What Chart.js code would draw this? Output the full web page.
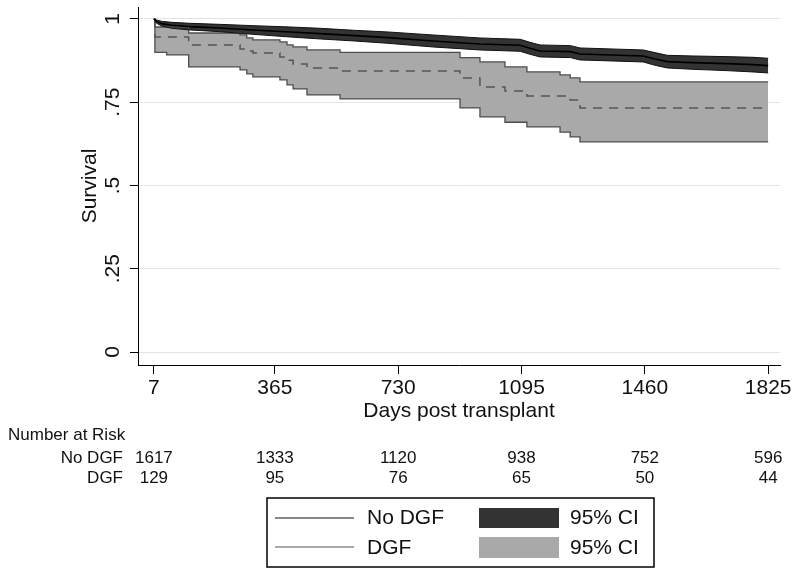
<!DOCTYPE html>
<html>
<head>
<meta charset="utf-8">
<script src="https://cdn.jsdelivr.net/npm/chart.js@4.4.1/dist/chart.umd.min.js"></script>
<style>
  html, body { margin: 0; padding: 0; background: #fff; }
</style>
</head>
<body>
<canvas id="kmChart" width="800" height="576"></canvas>
<script>
// No DGF group: KM estimate and 95% CI
const noDgfDays  = [7, 15, 30, 60, 114, 200, 300, 410, 500, 600, 700, 833, 972, 1091, 1120, 1150, 1240, 1268, 1455, 1490, 1526, 1600, 1700, 1780, 1825];
const noDgfSurv  = [1.0, 0.992, 0.986, 0.981, 0.977, 0.973, 0.967, 0.961, 0.956, 0.950, 0.944, 0.934, 0.925, 0.921, 0.912, 0.904, 0.902, 0.895, 0.889, 0.880, 0.872, 0.869, 0.866, 0.863, 0.860];
const noDgfLower = [1.0, 0.987, 0.979, 0.972, 0.967, 0.962, 0.954, 0.946, 0.940, 0.934, 0.927, 0.916, 0.907, 0.903, 0.894, 0.886, 0.884, 0.877, 0.871, 0.861, 0.853, 0.849, 0.845, 0.841, 0.838];
const noDgfUpper = [1.0, 0.997, 0.993, 0.990, 0.987, 0.984, 0.980, 0.976, 0.972, 0.966, 0.961, 0.952, 0.943, 0.939, 0.930, 0.922, 0.920, 0.913, 0.907, 0.899, 0.891, 0.889, 0.887, 0.885, 0.882];

// DGF group: KM estimate and 95% CI (step function)
const dgfDays  = [7, 10, 45, 110, 262, 282, 300, 380, 401, 419, 460, 558, 913, 972, 1046, 1111, 1209, 1239, 1268, 1825];
const dgfSurv  = [1, 0.946, 0.946, 0.922, 0.910, 0.904, 0.898, 0.886, 0.876, 0.865, 0.853, 0.844, 0.823, 0.796, 0.784, 0.769, 0.769, 0.757, 0.733, 0.733];
const dgfLower = [1, 0.900, 0.892, 0.856, 0.847, 0.835, 0.826, 0.817, 0.802, 0.790, 0.772, 0.760, 0.733, 0.706, 0.690, 0.676, 0.660, 0.646, 0.631, 0.631];
const dgfUpper = [1, 0.976, 0.976, 0.958, 0.952, 0.943, 0.937, 0.931, 0.922, 0.916, 0.907, 0.900, 0.884, 0.871, 0.856, 0.841, 0.832, 0.823, 0.811, 0.811];

const xTicks = [7, 365, 730, 1095, 1460, 1825];
const yTicks = [0, 0.25, 0.5, 0.75, 1];
const yTickLabels = ["0", ".25", ".5", ".75", "1"];

const riskRows = ["No DGF", "DGF"];
const riskNoDgf = [1617, 1333, 1120, 938, 752, 596];
const riskDgf = [129, 95, 76, 65, 50, 44];

const FONT = "'Liberation Sans', Arial, Helvetica, sans-serif";

function pts(xs, ys) {
  return xs.map((x, i) => ({ x: x, y: ys[i] }));
}

// axis labels, number at risk table and legend box
const extras = {
  id: "extras",
  afterDraw(chart) {
    const ctx = chart.ctx;
    const xs = chart.scales.x;
    const ys = chart.scales.y;
    const area = chart.chartArea;
    ctx.save();
    ctx.fillStyle = "#111";
    ctx.textBaseline = "middle";

    // y tick labels, rotated
    ctx.font = "21px " + FONT;
    ctx.textAlign = "center";
    yTicks.forEach((v, i) => {
      ctx.save();
      ctx.translate(113, ys.getPixelForValue(v));
      ctx.rotate(-Math.PI / 2);
      ctx.fillText(yTickLabels[i], 0, 0);
      ctx.restore();
    });

    // y title
    ctx.save();
    ctx.translate(90, (area.top + area.bottom) / 2);
    ctx.rotate(-Math.PI / 2);
    ctx.fillText("Survival", 0, 0);
    ctx.restore();

    // x title
    ctx.fillText("Days post transplant", (area.left + area.right) / 2, 411);

    // number at risk
    ctx.font = "17px " + FONT;
    ctx.textAlign = "left";
    ctx.fillText("Number at Risk", 8, 435);
    ctx.textAlign = "right";
    ctx.fillText(riskRows[0], 123, 458);
    ctx.fillText(riskRows[1], 123, 478);
    ctx.textAlign = "center";
    xTicks.forEach((d, i) => {
      const px = xs.getPixelForValue(d);
      ctx.fillText(String(riskNoDgf[i]), px, 458);
      ctx.fillText(String(riskDgf[i]), px, 478);
    });

    // legend
    ctx.strokeStyle = "#000";
    ctx.lineWidth = 1.5;
    ctx.strokeRect(267, 498, 387, 69);

    ctx.lineWidth = 1.2;
    ctx.strokeStyle = "#111";
    ctx.beginPath(); ctx.moveTo(275, 518); ctx.lineTo(354, 518); ctx.stroke();
    ctx.strokeStyle = "#555";
    ctx.beginPath(); ctx.moveTo(275, 547); ctx.lineTo(354, 547); ctx.stroke();

    ctx.fillStyle = "#333";
    ctx.fillRect(479, 508, 80, 20);
    ctx.fillStyle = "#a9a9a9";
    ctx.fillRect(479, 537, 80, 21);

    ctx.fillStyle = "#111";
    ctx.font = "21px " + FONT;
    ctx.textAlign = "left";
    ctx.fillText("No DGF", 367, 518);
    ctx.fillText("DGF", 367, 548);
    ctx.fillText("95% CI", 570, 518);
    ctx.fillText("95% CI", 570, 548);
    ctx.restore();
  }
};

const ctx = document.getElementById("kmChart").getContext("2d");

new Chart(ctx, {
  type: "line",
  data: {
    datasets: [
      {
        label: "DGF lower",
        data: pts(dgfDays, dgfLower),
        borderColor: "#4d4d4d",
        borderWidth: 1.3,
        stepped: true,
        fill: false,
        order: 5
      },
      {
        label: "DGF upper",
        data: pts(dgfDays, dgfUpper),
        borderColor: "#4d4d4d",
        borderWidth: 1.3,
        backgroundColor: "#a9a9a9",
        stepped: true,
        fill: "-1",
        order: 4
      },
      {
        label: "DGF",
        data: pts(dgfDays, dgfSurv),
        borderColor: "#555",
        borderWidth: 1.5,
        borderDash: [9, 7],
        stepped: true,
        fill: false,
        order: 3
      },
      {
        label: "No DGF lower",
        data: pts(noDgfDays, noDgfLower),
        borderColor: "#111",
        borderWidth: 1,
        fill: false,
        order: 2
      },
      {
        label: "No DGF upper",
        data: pts(noDgfDays, noDgfUpper),
        borderColor: "#111",
        borderWidth: 1,
        backgroundColor: "#333",
        fill: "-1",
        order: 1
      },
      {
        label: "No DGF",
        data: pts(noDgfDays, noDgfSurv),
        borderColor: "#000",
        borderWidth: 1.6,
        fill: false,
        order: 0
      }
    ]
  },
  options: {
    responsive: false,
    animation: false,
    devicePixelRatio: 1,
    layout: { padding: { top: 7, right: 20, left: 0, bottom: 0 } },
    elements: { point: { radius: 0 }, line: { tension: 0 } },
    plugins: {
      legend: { display: false },
      tooltip: { enabled: false },
      filler: { drawTime: "beforeDatasetsDraw" }
    },
    scales: {
      x: {
        type: "linear",
        min: -40,
        max: 1860,
        afterBuildTicks: s => { s.ticks = xTicks.map(v => ({ value: v })); },
        afterFit: s => { s.height = 211; },
        ticks: {
          autoSkip: false,
          maxRotation: 0,
          padding: 2,
          color: "#111",
          font: { family: FONT, size: 21 },
          callback: v => String(v)
        },
        grid: { drawOnChartArea: false, tickLength: 9, tickColor: "#000" },
        border: { color: "#000", width: 1 }
      },
      y: {
        type: "linear",
        min: -0.039,
        max: 1.036,
        afterBuildTicks: s => { s.ticks = yTicks.map(v => ({ value: v })); },
        afterFit: s => { s.width = 138; },
        ticks: { display: false },
        grid: { color: "#e3e3e3", lineWidth: 1, tickLength: 8, tickColor: "#000" },
        border: { color: "#000", width: 1 }
      }
    }
  },
  plugins: [extras]
});
</script>
</body>
</html>
